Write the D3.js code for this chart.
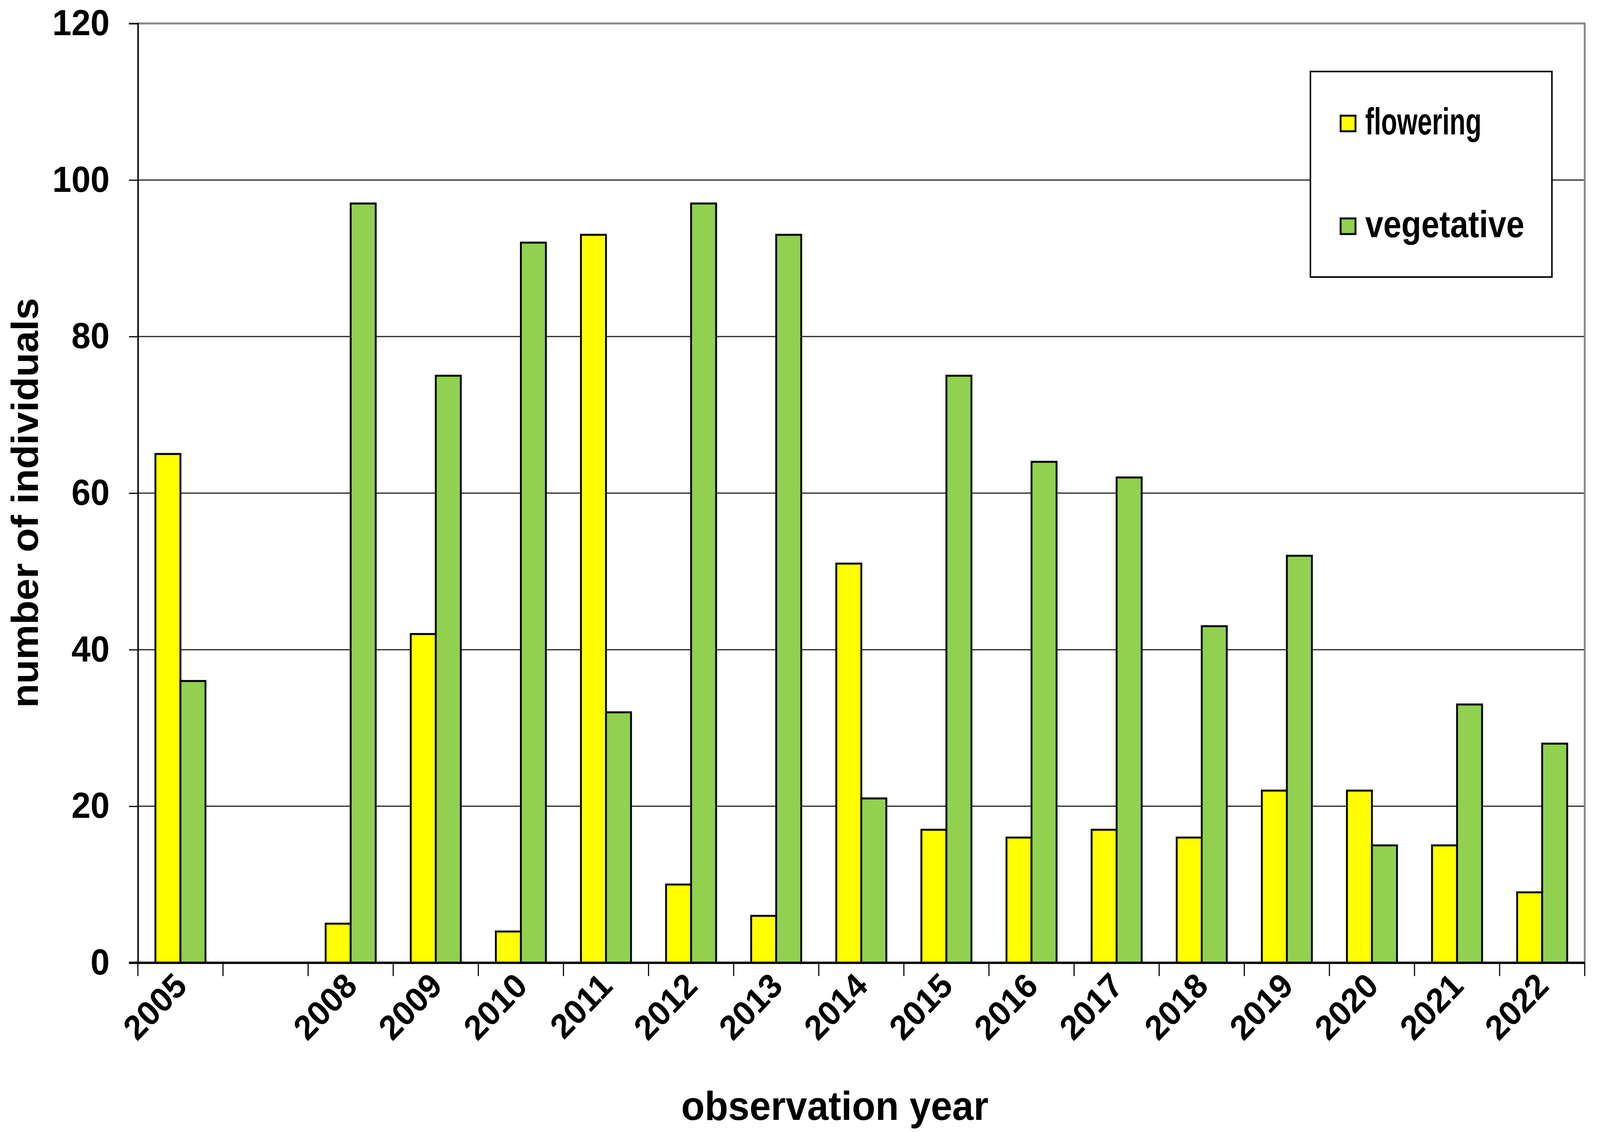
<!DOCTYPE html>
<html>
<head>
<meta charset="utf-8">
<script src="https://cdn.jsdelivr.net/npm/d3@7"></script>
<style>
  html, body { margin: 0; padding: 0; background: #fff; overflow: hidden; }
  svg { display: block; width: 100vw; height: 100vh; font-family: "Liberation Sans", Arial, sans-serif; font-weight: bold; }
</style>
</head>
<body>
<svg id="chart"></svg>
<script>
// observation years (the empty slot is the gap for 2006-2007)
const years = ["2005", "", "2008", "2009", "2010", "2011", "2012", "2013", "2014",
  "2015", "2016", "2017", "2018", "2019", "2020", "2021", "2022"];
const flowering = [65, null, 5, 42, 4, 93, 10, 6, 51, 17, 16, 17, 16, 22, 22, 15, 9];
const vegetative = [36, null, 97, 75, 92, 32, 97, 93, 21, 75, 64, 62, 43, 52, 15, 33, 28];
const seriesNames = ["flowering", "vegetative"];
const yTicks = [0, 20, 40, 60, 80, 100, 120];

const colors = { flowering: "#ffff00", vegetative: "#92d050" };

const W = 4293, H = 2897;
const margin = { top: 60, right: 41, bottom: 433, left: 370 };

const svg = d3.select("#chart")
  .attr("viewBox", `0 0 ${W} ${H}`)
  .attr("preserveAspectRatio", "none");
svg.append("rect").attr("width", W).attr("height", H).attr("fill", "#fff");

const x = d3.scaleBand()
  .domain(years)
  .range([margin.left, W - margin.right]);

const xInner = d3.scaleBand()
  .domain(seriesNames)
  .range([0, x.bandwidth()])
  .paddingInner(0)
  .paddingOuter(0.7);

const y = d3.scaleLinear()
  .domain([0, 120])
  .range([H - margin.bottom, margin.top]);

// gridlines
svg.append("g")
  .selectAll("line")
  .data(yTicks.filter(d => d > 0 && d < 120))
  .enter()
  .append("line")
  .attr("x1", margin.left)
  .attr("x2", W - margin.right)
  .attr("y1", d => y(d))
  .attr("y2", d => y(d))
  .attr("stroke", "#222")
  .attr("stroke-width", 3);

// top and right border of the plot area
svg.append("path")
  .attr("d", `M${margin.left},${y(120)}H${W - margin.right}V${y(0)}`)
  .attr("fill", "none")
  .attr("stroke", "#888")
  .attr("stroke-width", 5);

// bars
const rows = years.map((yr, i) => ({ year: yr, flowering: flowering[i], vegetative: vegetative[i] }));

const groups = svg.append("g")
  .selectAll("g")
  .data(rows.filter(d => d.flowering != null))
  .enter()
  .append("g")
  .attr("transform", d => `translate(${x(d.year)},0)`);

groups.selectAll("rect")
  .data(d => seriesNames.map(k => ({ key: k, value: d[k] })))
  .enter()
  .append("rect")
  .attr("x", d => xInner(d.key))
  .attr("width", xInner.bandwidth())
  .attr("y", d => y(d.value))
  .attr("height", d => y(0) - y(d.value))
  .attr("fill", d => colors[d.key])
  .attr("stroke", "#000")
  .attr("stroke-width", 5);

// y axis
const yAxis = svg.append("g")
  .attr("transform", `translate(${margin.left},0)`)
  .call(d3.axisLeft(y).tickValues(yTicks).tickSize(24).tickPadding(52));
yAxis.select(".domain").attr("stroke", "#000").attr("stroke-width", 4);
yAxis.selectAll(".tick line").attr("stroke", "#000").attr("stroke-width", 3);
yAxis.selectAll(".tick text")
  .attr("font-size", 92)
  .attr("font-family", "'Liberation Sans', Arial, sans-serif")
  .attr("font-weight", "bold")
  .attr("fill", "#000");

// x axis: ticks at band boundaries, labels rotated
const xAxisG = svg.append("g");
xAxisG.append("line")
  .attr("x1", margin.left - 24)
  .attr("x2", W - margin.right)
  .attr("y1", y(0))
  .attr("y2", y(0))
  .attr("stroke", "#000")
  .attr("stroke-width", 6);

const boundaries = years.map(d => x(d)).concat([x(years[years.length - 1]) + x.bandwidth()]);
xAxisG.selectAll(".xtick")
  .data(boundaries)
  .enter()
  .append("line")
  .attr("class", "xtick")
  .attr("x1", d => d)
  .attr("x2", d => d)
  .attr("y1", y(0))
  .attr("y2", y(0) + 34)
  .attr("stroke", "#000")
  .attr("stroke-width", 3);

xAxisG.selectAll(".xlabel")
  .data(years.filter(d => d !== ""))
  .enter()
  .append("text")
  .attr("class", "xlabel")
  .attr("text-anchor", "end")
  .attr("font-size", 88)
  .attr("transform", d => `translate(${x(d) + x.bandwidth() / 2 + 22},${y(0) + 64}) rotate(-45)`)
  .text(d => d);

// axis titles
svg.append("text")
  .attr("text-anchor", "middle")
  .attr("font-size", 103)
  .attr("x", 2240)
  .attr("y", 2866)
  .text("observation year");

svg.append("text")
  .attr("text-anchor", "middle")
  .attr("font-size", 101)
  .attr("transform", `translate(102,${(y(0) + y(120)) / 2 + 25}) rotate(-90)`)
  .text("number of individuals");

// legend
const legendWidths = { flowering: 312, vegetative: 427 };
const legend = svg.append("g");
legend.append("rect")
  .attr("x", 3516)
  .attr("y", 183)
  .attr("width", 648)
  .attr("height", 526)
  .attr("fill", "#fff")
  .attr("stroke", "#000")
  .attr("stroke-width", 4);

const legendItems = legend.selectAll(".legend-item")
  .data(seriesNames)
  .enter()
  .append("g")
  .attr("class", "legend-item")
  .attr("transform", (d, i) => `translate(3597,${296 + i * 263})`);

legendItems.append("rect")
  .attr("width", 40)
  .attr("height", 40)
  .attr("fill", d => colors[d])
  .attr("stroke", "#000")
  .attr("stroke-width", 5);

legendItems.append("text")
  .attr("x", 66)
  .attr("y", 48)
  .attr("font-size", 96)
  .attr("textLength", d => legendWidths[d])
  .attr("lengthAdjust", "spacingAndGlyphs")
  .text(d => d);
</script>
</body>
</html>
